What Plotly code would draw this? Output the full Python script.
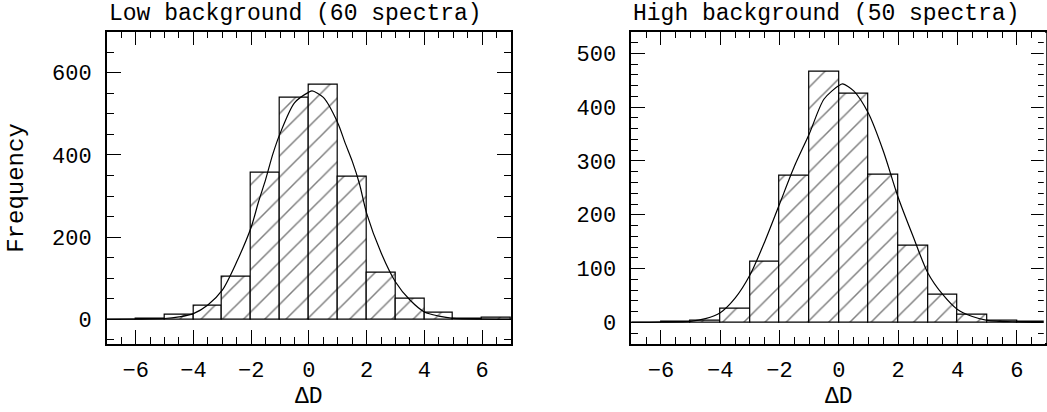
import plotly.graph_objects as go

# ---- data ----
bin_centers = [-6.5, -5.5, -4.5, -3.5, -2.5, -1.5, -0.5, 0.5, 1.5, 2.5, 3.5, 4.5, 5.5, 6.5]
low_counts = [0, 2, 12, 33, 103, 356, 539, 570, 347, 113, 50, 17, 2, 4]
high_counts = [0, 1, 3, 26, 113, 272, 465, 425, 274, 142, 52, 15, 3, 2]

low_fit_x = [-7, -6, -5, -4.5, -4, -3.5, -3, -2.5, -2, -1.75, -1.5, -1.25, -1, -0.5, 0, 0.11,
             0.5, 1, 1.25, 1.5, 1.75, 2, 2.5, 3, 3.5, 4, 4.5, 5, 6, 7]
low_fit_y = [0, 0.5, 2, 6, 14, 35, 71, 140, 224, 285, 340, 402, 452, 527, 553, 556,
             540, 478, 430, 385, 330, 258, 162, 91, 47, 18, 8, 2.5, 0.5, 0]

high_fit_x = [-7, -6, -5, -4.5, -4, -3.5, -3, -2.5, -2, -1.5, -1, -0.5, 0, 0.13,
              0.5, 1, 1.5, 2, 2.5, 3, 3.5, 4, 4.5, 5, 6, 7]
high_fit_y = [0, 0.5, 2, 7, 18, 45, 88, 150, 220, 290, 350, 415, 440, 443,
              430, 388, 318, 232, 160, 92, 52, 24, 11, 4, 1, 0]

panel_titles = ["Low background (60 spectra)", "High background (50 spectra)"]
x_title = "\u0394D"
y_title = "Frequency"

FONT = "Liberation Mono"
FS = 22

fig = go.Figure()

def add_panel(counts, fx, fy, xa, ya):
    fig.add_trace(go.Bar(
        x=bin_centers, y=counts, width=1, xaxis=xa, yaxis=ya,
        marker=dict(color="white", line=dict(color="black", width=1.2),
                    pattern=dict(shape="/", fgcolor="black", bgcolor="white",
                                 size=15, solidity=0.1)),
        showlegend=False, hoverinfo="skip"))
    fig.add_trace(go.Scatter(
        x=fx, y=fy, mode="lines", xaxis=xa, yaxis=ya,
        line=dict(color="black", width=1.2, shape="spline", smoothing=0.8),
        showlegend=False, hoverinfo="skip"))

add_panel(low_counts, low_fit_x, low_fit_y, "x", "y")
add_panel(high_counts, high_fit_x, high_fit_y, "x2", "y2")

ydom = [68 / 412, 380.3 / 412]
xdom1 = [107 / 1047, 512 / 1047]
xdom2 = [632.5 / 1047, 1.0]

def xaxis_style(dom, rng, anchor):
    return dict(domain=dom, range=rng, anchor=anchor,
                showline=True, linecolor="black", linewidth=1.5, mirror="allticks",
                ticks="inside", ticklen=14, tickwidth=1, tickcolor="black",
                tickmode="linear", tick0=0, dtick=2,
                minor=dict(ticks="inside", ticklen=7, dtick=0.5, tick0=0,
                           tickwidth=1, tickcolor="black", showgrid=False),
                showgrid=False, zeroline=False,
                tickfont=dict(family=FONT, size=FS, color="black"),
                ticklabelstandoff=5, fixedrange=True)

def yaxis_style(rng, anchor, dtick, mdtick):
    return dict(domain=ydom, range=rng, anchor=anchor,
                showline=True, linecolor="black", linewidth=1.5, mirror="allticks",
                ticks="inside", ticklen=14, tickwidth=1, tickcolor="black",
                tickmode="linear", tick0=0, dtick=dtick,
                minor=dict(ticks="inside", ticklen=7, dtick=mdtick, tick0=0,
                           tickwidth=1, tickcolor="black", showgrid=False),
                showgrid=False, zeroline=False,
                tickfont=dict(family=FONT, size=FS, color="black"),
                ticklabelstandoff=9, fixedrange=True)

annotations = [
    dict(text=panel_titles[0], x=xdom1[0], y=1 - 13.5 / 412, xref="paper", yref="paper",
         xanchor="left", yanchor="middle", showarrow=False,
         font=dict(family=FONT, size=23, color="black")),
    dict(text=panel_titles[1], x=xdom2[0], y=1 - 13.5 / 412, xref="paper", yref="paper",
         xanchor="left", yanchor="middle", showarrow=False,
         font=dict(family=FONT, size=23, color="black")),
    dict(text=x_title, x=(xdom1[0] + xdom1[1]) / 2, y=1 - 397 / 412, xref="paper", yref="paper",
         xanchor="center", yanchor="middle", showarrow=False,
         font=dict(family=FONT, size=23, color="black")),
    dict(text=x_title, x=840.5 / 1047, y=1 - 397 / 412, xref="paper", yref="paper",
         xanchor="center", yanchor="middle", showarrow=False,
         font=dict(family=FONT, size=23, color="black")),
    dict(text=y_title, x=17 / 1047, y=(ydom[0] + ydom[1]) / 2, xref="paper", yref="paper",
         xanchor="center", yanchor="middle", textangle=-90, showarrow=False,
         font=dict(family=FONT, size=24, color="black")),
]

# the right panel's frame lies just beyond the picture's right edge in the reference
shapes = [dict(type="line", xref="paper", yref="paper", x0=1.0, x1=1.0,
               y0=ydom[0] + 1 / 412, y1=ydom[1] - 1 / 412,
               line=dict(color="white", width=2.5), layer="above")]

fig.update_layout(
    width=1047, height=412,
    margin=dict(l=0, r=0, t=0, b=0),
    paper_bgcolor="white", plot_bgcolor="white",
    bargap=0, barmode="overlay",
    xaxis=xaxis_style(xdom1, [-7, 7], "y"),
    yaxis=yaxis_style([-60, 700], "x", 200, 50),
    xaxis2=xaxis_style(xdom2, [-7, 6.95], "y2"),
    yaxis2=yaxis_style([-40, 540], "x2", 100, 20),
    annotations=annotations,
    shapes=shapes,
)

fig.write_html("out.html", config={"displayModeBar": False},
               post_script="document.body.style.margin='0';document.body.style.overflow='hidden';")
